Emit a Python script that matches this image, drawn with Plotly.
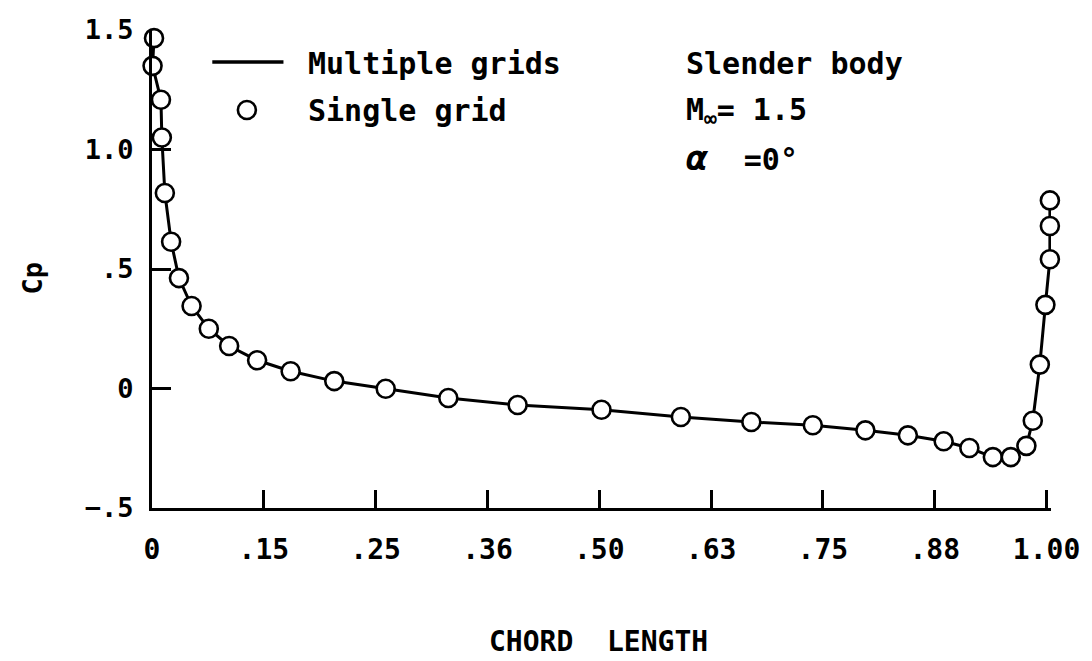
import plotly.graph_objects as go

# ---- data (x in stretched chord coordinate: one unit per labelled tick) ----
x_pos = [0.018, 0.005, 0.08, 0.088, 0.115, 0.171, 0.241, 0.354, 0.508, 0.69,
         0.94, 1.24, 1.63, 2.09, 2.65, 3.27, 4.02, 4.73, 5.36, 5.91,
         6.38, 6.76, 7.08, 7.31, 7.52, 7.68, 7.82, 7.877, 7.94, 7.99,
         8.03, 8.03, 8.03]
cp_single = [1.466, 1.35, 1.208, 1.050, 0.818, 0.614, 0.462, 0.345, 0.25, 0.178,
             0.118, 0.072, 0.031, -0.001, -0.040, -0.069, -0.089, -0.119, -0.140, -0.154,
             -0.175, -0.196, -0.221, -0.249, -0.287, -0.287, -0.240, -0.135, 0.100, 0.350,
             0.541, 0.680, 0.787]
cp_multi = cp_single[:]

x_tickvals = [0, 1, 2, 3, 4, 5, 6, 7, 8]
x_ticktext = ["0", ".15", ".25", ".36", ".50", ".63", ".75", ".88", "1.00"]
y_tickvals = [-0.5, 0, 0.5, 1.0, 1.5]
y_ticktext = ["\u2212.5", "0", ".5", "1.0", "1.5"]

# ---- layout geometry ----
WIDTH, HEIGHT = 1092, 661
X_MAX = 8.04
L, T, B = 152, 30, 508
UNIT = (1057 - L) / 8.0
R = L + UNIT * X_MAX
PW, PH = R - L, B - T


def px(xp):
    return (xp - L) / PW


def py(yp):
    return (B - yp) / PH


FONT = "DejaVu Sans Mono"
BLACK = "black"

fig = go.Figure()
fig.add_trace(go.Scatter(x=x_pos, y=cp_multi, mode="lines",
                         line=dict(color=BLACK, width=3),
                         name="Multiple grids", showlegend=False, cliponaxis=False))
fig.add_trace(go.Scatter(x=x_pos, y=cp_single, mode="markers",
                         marker=dict(symbol="circle", size=18, color="white",
                                     line=dict(color=BLACK, width=2.6)),
                         name="Single grid", showlegend=False, cliponaxis=False))

fig.update_xaxes(range=[0, X_MAX], tickvals=x_tickvals, ticktext=x_ticktext,
                 ticks="inside", ticklen=18, tickwidth=3, tickcolor=BLACK,
                 showline=True, linewidth=3, linecolor=BLACK,
                 showgrid=False, zeroline=False,
                 ticklabelstandoff=14,
                 tickfont=dict(family=FONT, size=28, color=BLACK, weight="bold"))
fig.update_yaxes(range=[-0.5, 1.5], tickvals=y_tickvals, ticktext=y_ticktext,
                 ticks="inside", ticklen=19, tickwidth=3, tickcolor=BLACK,
                 showline=True, linewidth=3, linecolor=BLACK,
                 showgrid=False, zeroline=False,
                 ticklabelstandoff=10,
                 tickfont=dict(family=FONT, size=27, color=BLACK, weight="bold"))

txt = dict(family=FONT, size=30, color=BLACK, weight="bold")
annotations = [
    dict(text="Multiple grids", x=px(308), y=py(63)),
    dict(text="Single grid", x=px(308), y=py(110)),
    dict(text="Slender body", x=px(690), y=py(63)),
    dict(text="M<sub>\u221e</sub>= 1.5", x=px(690), y=py(112)),
    dict(text="<i><span style='font-size:36px'>\u03b1</span></i>\u00a0 =0\u00b0",
         x=px(690), y=py(157)),
]
for a in annotations:
    a.update(xref="paper", yref="paper", xanchor="left", yanchor="middle",
             showarrow=False, font=txt)
annotations.append(dict(text="CHORD\u00a0 LENGTH", xref="paper", yref="paper",
                        x=px(604), y=py(641), xanchor="center", yanchor="middle",
                        showarrow=False,
                        font=dict(family=FONT, size=28, color=BLACK, weight="bold")))
annotations.append(dict(text="Cp", xref="paper", yref="paper",
                        x=px(31), y=py(278), xanchor="center", yanchor="middle",
                        textangle=-90, showarrow=False,
                        font=dict(family=FONT, size=27, color=BLACK, weight="bold")))

shapes = [
    dict(type="line", xref="paper", yref="paper", x0=px(213), x1=px(285),
         y0=py(62), y1=py(62), line=dict(color=BLACK, width=3.5)),
    dict(type="circle", xref="paper", yref="paper", xsizemode="pixel", ysizemode="pixel",
         xanchor=px(248), yanchor=py(110), x0=-9, x1=9, y0=-9, y1=9,
         line=dict(color=BLACK, width=2.6), fillcolor="white"),
]

fig.update_layout(width=WIDTH, height=HEIGHT,
                  margin=dict(l=L, r=WIDTH - R, t=T, b=HEIGHT - B),
                  paper_bgcolor="white", plot_bgcolor="white",
                  annotations=annotations, shapes=shapes, showlegend=False)

fig.write_html("out.html", config={"displayModeBar": False},
               post_script="document.body.style.margin='0';document.body.style.overflow='hidden';")
